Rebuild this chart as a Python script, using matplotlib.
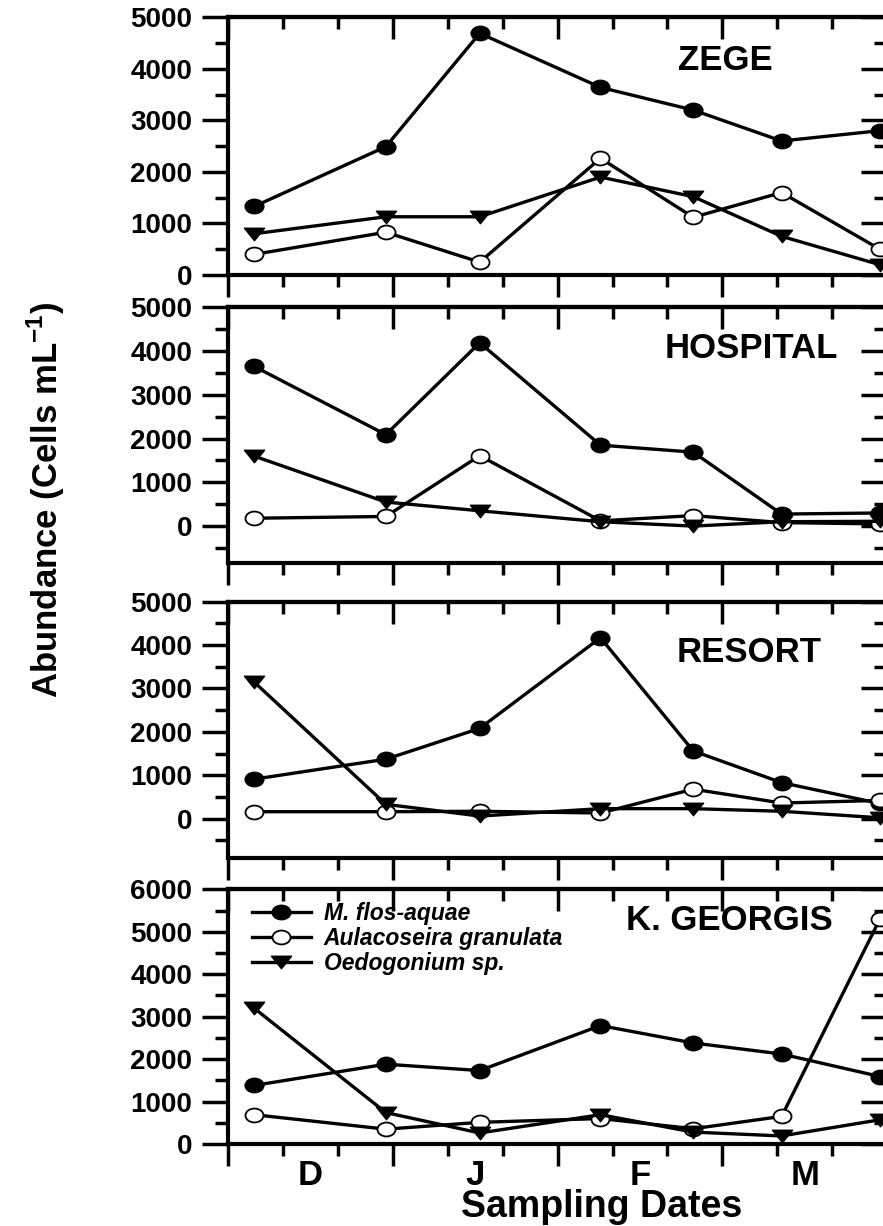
import numpy as np
import matplotlib.pyplot as plt
from matplotlib.path import Path
from matplotlib.transforms import Affine2D
from matplotlib.ticker import MultipleLocator

plt.rcParams['font.family'] = ['Liberation Sans', 'DejaVu Sans']
plt.rcParams['font.weight'] = 'bold'
plt.rcParams['mathtext.fontset'] = 'custom'
plt.rcParams['mathtext.rm'] = 'Liberation Sans:bold'
plt.rcParams['mathtext.bf'] = 'Liberation Sans:bold'

# sampling days counted from 1 December
days = [4.7, 28.7, 45.8, 67.8, 84.7, 100.8, 118.7]
months = ['D', 'J', 'F', 'M']
month_len = 30

sites = ['ZEGE', 'HOSPITAL', 'RESORT', 'K. GEORGIS']
species = ['M. flos-aquae', 'Aulacoseira granulata', 'Oedogonium sp.']

microcystis = [
    [1330, 2490, 4690, 3640, 3200, 2600, 2800],
    [3650, 2090, 4190, 1850, 1690, 275, 300],
    [910, 1370, 2080, 4170, 1560, 830, 350],
    [1380, 1880, 1730, 2790, 2380, 2120, 1590],
]
aulacoseira = [
    [400, 830, 250, 2265, 1120, 1600, 500],
    [180, 220, 1610, 120, 240, 80, 50],
    [160, 160, 170, 130, 680, 360, 420],
    [690, 350, 510, 600, 360, 650, 5300],
]
oedogonium = [
    [800, 1130, 1130, 1900, 1520, 750, 200],
    [1600, 550, 350, 100, 0, 100, 110],
    [3150, 330, 60, 230, 230, 170, 20],
    [3200, 740, 260, 690, 280, 190, 570],
]

ylims = [(0, 5000), (-850, 5000), (-900, 5000), (0, 6000)]
title_pos = [(0.755, 0.834), (0.794, 0.841), (0.790, 0.803), (0.760, 0.879)]

# panel boxes in pixels: top, bottom
W, H = 883, 1226
boxes = [(17.3, 275.0), (307.3, 563.3), (601.7, 857.7), (889.3, 1144.0)]
left_px, right_px = 228.3, 887.0

# slightly flattened markers
oval = Path.unit_circle().transformed(Affine2D().scale(1.0, 0.77))
tri = Path([(0, -0.62), (-1, 0.62), (1, 0.62), (0, -0.62)],
           [Path.MOVETO, Path.LINETO, Path.LINETO, Path.CLOSEPOLY])

styles = [
    dict(marker=oval, markersize=13.5, markerfacecolor='black', markeredgecolor='black'),
    dict(marker=oval, markersize=13, markerfacecolor='white', markeredgecolor='black',
         markeredgewidth=1.3),
    dict(marker=tri, markersize=14.5, markerfacecolor='black', markeredgecolor='black'),
]

fig = plt.figure(figsize=(W / 100, H / 100), dpi=100)

axes = []
for i, site in enumerate(sites):
    top, bot = boxes[i]
    ax = fig.add_axes([left_px / W, 1 - bot / H, (right_px - left_px) / W, (bot - top) / H])
    axes.append(ax)
    series = [microcystis[i], aulacoseira[i], oedogonium[i]]
    for name, vals, st in zip(species, series, styles):
        ax.plot(days, vals, color='black', lw=2.4, label=name, clip_on=False, **st)

    ax.set_xlim(0, 4 * month_len)
    ax.set_ylim(*ylims[i])
    ax.xaxis.set_major_locator(MultipleLocator(month_len))
    ax.xaxis.set_minor_locator(MultipleLocator(10))
    ax.yaxis.set_minor_locator(MultipleLocator(500))
    ax.tick_params(which='both', direction='out', width=2.5, labelsize=20, pad=7,
                   labelbottom=False)
    ax.tick_params(axis='y', which='major', length=19)
    ax.tick_params(axis='y', which='minor', length=9.5)
    ax.tick_params(axis='x', which='major', length=16)
    ax.tick_params(axis='x', which='minor', length=8.5)
    for s in ax.spines.values():
        s.set_linewidth(3)

    # inward ticks on the top and right sides
    sx = ax.secondary_xaxis('top')
    sx.xaxis.set_major_locator(MultipleLocator(month_len))
    sx.xaxis.set_minor_locator(MultipleLocator(10))
    sx.tick_params(which='both', direction='in', width=2.5, labeltop=False)
    sx.tick_params(which='major', length=16)
    sx.tick_params(which='minor', length=8.5)
    sx.spines['top'].set_linewidth(3)
    sy = ax.secondary_yaxis('right')
    sy.yaxis.set_major_locator(MultipleLocator(1000))
    sy.yaxis.set_minor_locator(MultipleLocator(500))
    sy.tick_params(which='both', direction='in', width=2.5, labelright=False)
    sy.tick_params(which='major', length=19)
    sy.tick_params(which='minor', length=9.5)
    sy.spines['right'].set_linewidth(3)

    # labelled ticks only from zero upwards
    lo, hi = ylims[i]
    yt = np.arange(0, hi + 1, 1000)
    ax.set_yticks(yt)
    ax.set_yticklabels([f'{int(v)}' for v in yt], fontweight='bold')

    tx, ty = title_pos[i]
    ax.text(tx, ty, site, transform=ax.transAxes, ha='center', va='center',
            fontsize=25, fontweight='bold')

ax4 = axes[-1]
for k, m in enumerate(months):
    ax4.text(month_len * k + month_len / 2, -0.161, m, transform=ax4.get_xaxis_transform(),
             ha='center', va='baseline', fontsize=25, fontweight='bold')

leg = ax4.legend(loc='upper left', bbox_to_anchor=(0.0355, 0.95), frameon=False,
                 numpoints=1, handlelength=2.6, handletextpad=0.55, labelspacing=0.08,
                 borderpad=0, borderaxespad=0,
                 prop=dict(size=16.5, weight='bold', style='italic'))

fig.text(601.5 / W, 1 - 1217 / H, 'Sampling Dates', ha='center', va='baseline',
         fontsize=27, fontweight='bold')
fig.text(46 / W, 1 - 500 / H, r'Abundance (Cells mL$^{-1}$)', rotation=90,
         ha='center', va='center', fontsize=25, fontweight='bold')

fig.savefig('out.png', dpi=100)
